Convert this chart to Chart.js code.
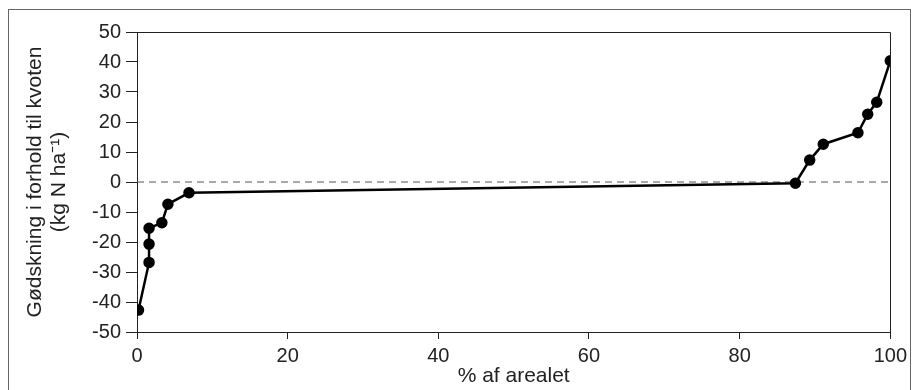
<!DOCTYPE html>
<html>
<head>
<meta charset="utf-8">
<script src="https://cdn.jsdelivr.net/npm/chart.js@4.4.0/dist/chart.umd.min.js"></script>
<style>
  html, body { margin: 0; padding: 0; background: #fff; }
  #wrap { width: 912px; height: 390px; }
</style>
</head>
<body>
<div id="wrap"><canvas id="myChart" width="912" height="390"></canvas></div>
<script>
// share of the area (%) and fertilisation relative to quota (kg N/ha)
const areaShare = [0.2, 1.6, 1.6, 1.6, 3.3, 4.1, 6.9, 87.4, 89.3, 91.1, 95.7, 97.0, 98.2, 100];
const quotaDiff = [-42.7, -26.8, -20.7, -15.4, -13.6, -7.4, -3.6, -0.4, 7.3, 12.6, 16.4, 22.6, 26.6, 40.4];
const zeroLineX = [0, 100];
const zeroLineY = [0, 0];

const xTitle = "% af arealet";
const yTitle = ["Gødskning i forhold til kvoten", "(kg N ha\u207B\u00B9)"];

const fontFamily = "'Liberation Sans', Arial, sans-serif";

// outer frame + top/right edge of the plot box
const framePlugin = {
  id: "frame",
  beforeDraw(chart) {
    const ctx = chart.ctx;
    ctx.save();
    ctx.strokeStyle = "#666";
    ctx.lineWidth = 1;
    ctx.strokeRect(8.5, 9.5, 902, 400);
    ctx.restore();
  },
  afterDraw(chart) {
    const { ctx, chartArea } = chart;
    ctx.save();
    ctx.strokeStyle = "#222";
    ctx.lineWidth = 1;
    ctx.beginPath();
    ctx.moveTo(Math.round(chartArea.left) + 0.5, Math.round(chartArea.top) + 0.5);
    ctx.lineTo(Math.round(chartArea.right) + 0.5, Math.round(chartArea.top) + 0.5);
    ctx.lineTo(Math.round(chartArea.right) + 0.5, Math.round(chartArea.bottom) + 0.5);
    ctx.stroke();
    ctx.restore();
  },
};

function toPoints(xs, ys) {
  return xs.map((x, i) => ({ x: x, y: ys[i] }));
}

const data = {
  datasets: [
    {
      label: "Gødskning",
      data: toPoints(areaShare, quotaDiff),
      showLine: true,
      borderColor: "#000",
      backgroundColor: "#000",
      borderWidth: 2.5,
      pointRadius: 4.5,
      pointHoverRadius: 4.5,
    },
    {
      label: "Kvote",
      data: toPoints(zeroLineX, zeroLineY),
      showLine: true,
      borderColor: "#555",
      borderWidth: 1,
      borderDash: [7, 5],
      pointRadius: 0,
    },
  ],
};

const options = {
  responsive: false,
  animation: false,
  layout: { padding: { left: 0, top: 32, right: 21, bottom: 0 } },
  plugins: {
    legend: { display: false },
    tooltip: { enabled: false },
  },
  scales: {
    x: {
      type: "linear",
      min: 0,
      max: 100,
      afterFit: (scale) => { scale.height = 58; },
      ticks: {
        stepSize: 20,
        color: "#222",
        padding: 5,
        font: { family: fontFamily, size: 20 },
      },
      grid: { drawOnChartArea: false, tickLength: 7, color: "#222" },
      border: { display: true, color: "#222" },
      title: {
        display: true,
        text: xTitle,
        color: "#222",
        padding: { top: 0, bottom: 1 },
        font: { family: fontFamily, size: 21, lineHeight: 1.2 },
      },
    },
    y: {
      type: "linear",
      min: -50,
      max: 50,
      afterFit: (scale) => { scale.width = 137; },
      ticks: {
        stepSize: 10,
        color: "#222",
        padding: 5,
        font: { family: fontFamily, size: 20 },
      },
      grid: { drawOnChartArea: false, tickLength: 11, color: "#222" },
      border: { display: true, color: "#222" },
      title: {
        display: true,
        text: yTitle,
        color: "#222",
        padding: { top: 23, bottom: 0 },
        font: { family: fontFamily, size: 21, lineHeight: 1.15 },
      },
    },
  },
};

const ctx = document.getElementById("myChart").getContext("2d");
new Chart(ctx, { type: "scatter", data, options, plugins: [framePlugin] });
</script>
</body>
</html>
